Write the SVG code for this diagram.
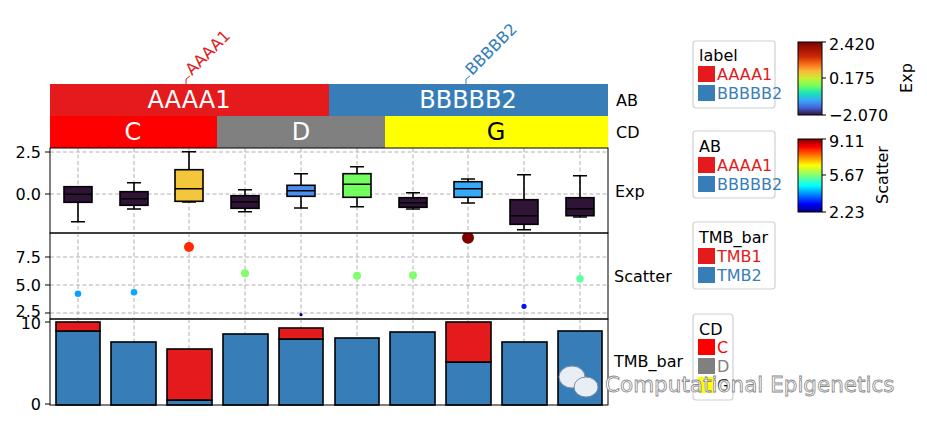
<svg xmlns="http://www.w3.org/2000/svg" width="927" height="427" viewBox="0 0 927 427">
<defs>
<style>
text{font-family:"DejaVu Sans",sans-serif;font-size:16px;fill:#000}
.tick{stroke:#000;stroke-width:1}
.grid{stroke:#b0b0b0;stroke-width:1;stroke-dasharray:4,2.5;fill:none}
.box{stroke:#000;stroke-width:1.6}
.wh{stroke:#000;stroke-width:1.6;fill:none}
.bar{stroke:#000;stroke-width:1.6}
.leg{fill:#fff;stroke:#d0d0d0;stroke-width:1.2}
</style>
<linearGradient id="turbo" x1="0" y1="1" x2="0" y2="0">
<stop offset="0" stop-color="#30123b"/><stop offset="0.1" stop-color="#4662d7"/><stop offset="0.2" stop-color="#36aaf9"/><stop offset="0.3" stop-color="#1ae4b6"/><stop offset="0.4" stop-color="#72fe5e"/><stop offset="0.5" stop-color="#c8ef34"/><stop offset="0.6" stop-color="#faba39"/><stop offset="0.7" stop-color="#f66b19"/><stop offset="0.8" stop-color="#cb2a04"/><stop offset="0.9" stop-color="#a31301"/><stop offset="1" stop-color="#7a0403"/>
</linearGradient>
<linearGradient id="jet" x1="0" y1="1" x2="0" y2="0">
<stop offset="0" stop-color="#00007f"/><stop offset="0.11" stop-color="#0000ff"/><stop offset="0.36" stop-color="#00ffff"/><stop offset="0.5" stop-color="#7dff7a"/><stop offset="0.64" stop-color="#ffff00"/><stop offset="0.89" stop-color="#ff0000"/><stop offset="1" stop-color="#7f0000"/>
</linearGradient>
</defs>
<rect width="927" height="427" fill="#fff"/>

<g id="top-labels">
<path d="M186,84 L186,79 L190,76" fill="none" stroke="#e41a1c" stroke-width="1"/>
<text x="192" y="76" transform="rotate(-45 192 76)" style="fill:#e41a1c">AAAA1</text>
<path d="M466,84 L466,79 L470,76" fill="none" stroke="#377eb8" stroke-width="1"/>
<text x="472" y="76" transform="rotate(-45 472 76)" style="fill:#377eb8">BBBBB2</text>
</g>

<g id="AB">
<rect x="50" y="84" width="279" height="32" fill="#e41a1c"/>
<rect x="329" y="84" width="279" height="32" fill="#377eb8"/>
<text x="189" y="108" text-anchor="middle" style="font-size:24px;fill:#fff">AAAA1</text>
<text x="468" y="108" text-anchor="middle" style="font-size:24px;fill:#fff">BBBBB2</text>
<text x="616" y="106">AB</text>
</g>
<g id="CD">
<rect x="50" y="116" width="167" height="32" fill="#ff0000"/>
<rect x="217" y="116" width="168" height="32" fill="#808080"/>
<rect x="385" y="116" width="223" height="32" fill="#ffff00"/>
<text x="133" y="140" text-anchor="middle" style="font-size:24px;fill:#fff">C</text>
<text x="301" y="140" text-anchor="middle" style="font-size:24px;fill:#fff">D</text>
<text x="496" y="140" text-anchor="middle" style="font-size:24px;fill:#000">G</text>
<text x="616" y="138">CD</text>
</g>

<g id="Exp">
<g class="grid">
<path d="M50,152H608M50,194H608"/>
<path d="M78,148V233M134,148V233M189,148V233M245,148V233M301,148V233M357,148V233M413,148V233M468,148V233M524,148V233M580,148V233"/>
</g>
<g class="wh">
<path d="M78,186.7V221.7M71,221.7H85M71,186.7H85"/>
<path d="M134,182.7V209M127,182.7H141M127,209H141"/>
<path d="M189,151.7V202M182,151.7H196M182,202H196"/>
<path d="M245,189.7V211.7M238,189.7H252M238,211.7H252"/>
<path d="M301,173.7V208M294,173.7H308M294,208H308"/>
<path d="M357,166.7V206.7M350,166.7H364M350,206.7H364"/>
<path d="M413,192.7V209M406,192.7H420M406,209H420"/>
<path d="M468,179V203M461,179H475M461,203H475"/>
<path d="M524,174.7V229.7M517,174.7H531M517,229.7H531"/>
<path d="M580,175.7V217M573,175.7H587M573,217H587"/>
</g>
<g class="box">
<rect x="64" y="186.7" width="28" height="15.6" fill="#301437"/>
<rect x="120" y="191.7" width="28" height="13.6" fill="#301437"/>
<rect x="175" y="169.7" width="28" height="31.6" fill="#f4c63c"/>
<rect x="231" y="195.7" width="28" height="12.6" fill="#301437"/>
<rect x="287" y="185.3" width="28" height="11" fill="#4a8ff0"/>
<rect x="343" y="173.7" width="28" height="23.6" fill="#72fe5e"/>
<rect x="399" y="197.7" width="28" height="9.6" fill="#301437"/>
<rect x="454" y="181.7" width="28" height="15.6" fill="#36aaf9"/>
<rect x="510" y="199.7" width="28" height="24.6" fill="#301437"/>
<rect x="566" y="197.7" width="28" height="18" fill="#301437"/>
<path d="M64,194.3H92M120,198.7H148M175,188.7H203M231,201.7H259M287,190.7H315M343,184.3H371M399,202.7H427M454,188.7H482M510,215.7H538M566,208.7H594" fill="none"/>
</g>
<rect x="50" y="148" width="558" height="85" fill="none" stroke="#000" stroke-width="1"/>
<path class="tick" d="M45,152H50M45,194H50"/>
<text x="41" y="158" text-anchor="end">2.5</text>
<text x="41" y="200" text-anchor="end">0.0</text>
<text x="615" y="197">Exp</text>
</g>

<g id="Scatter">
<g class="grid">
<path d="M50,257H608M50,285H608M50,313H608"/>
<path d="M78,233V319M134,233V319M189,233V319M245,233V319M301,233V319M357,233V319M413,233V319M468,233V319M524,233V319M580,233V319"/>
</g>
<circle cx="78" cy="293.7" r="3.3" fill="#0aa0ff"/>
<circle cx="134" cy="292.3" r="3.3" fill="#0aa8ff"/>
<circle cx="189" cy="247" r="5" fill="#ff2a00"/>
<circle cx="245" cy="273.3" r="4" fill="#80ff6a"/>
<circle cx="301" cy="314.7" r="1.6" fill="#00008f"/>
<circle cx="357" cy="275.7" r="4" fill="#80ff6a"/>
<circle cx="413" cy="275.3" r="4" fill="#80ff6a"/>
<clipPath id="sc"><rect x="50" y="233" width="558" height="86"/></clipPath>
<circle cx="468" cy="237.7" r="6" fill="#800000" clip-path="url(#sc)"/>
<circle cx="524" cy="306.3" r="2.6" fill="#0010ff"/>
<circle cx="580" cy="278.7" r="3.8" fill="#60ffa0"/>
<rect x="50" y="233" width="558" height="86" fill="none" stroke="#000" stroke-width="1"/>
<path class="tick" d="M45,257H50M45,285H50M45,313H50"/>
<text x="41" y="263" text-anchor="end">7.5</text>
<text x="41" y="291" text-anchor="end">5.0</text>
<text x="41" y="317" text-anchor="end">2.5</text>
<text x="614" y="282">Scatter</text>
</g>

<g id="TMB_bar">
<g class="grid">
<path d="M78,319V405M134,319V405M189,319V405M245,319V405M301,319V405M357,319V405M413,319V405M468,319V405M524,319V405M580,319V405"/>
</g>
<g class="bar">
<rect x="56" y="331" width="44" height="74" fill="#377eb8"/><rect x="56" y="322" width="44" height="9" fill="#e41a1c"/>
<rect x="111" y="342" width="45" height="63" fill="#377eb8"/>
<rect x="167" y="400" width="45" height="5" fill="#377eb8"/><rect x="167" y="349" width="45" height="51" fill="#e41a1c"/>
<rect x="223" y="334" width="45" height="71" fill="#377eb8"/>
<rect x="279" y="339" width="44" height="66" fill="#377eb8"/><rect x="279" y="328" width="44" height="11" fill="#e41a1c"/>
<rect x="335" y="338" width="44" height="67" fill="#377eb8"/>
<rect x="390" y="332" width="45" height="73" fill="#377eb8"/>
<rect x="446" y="362" width="45" height="43" fill="#377eb8"/><rect x="446" y="322" width="45" height="40" fill="#e41a1c"/>
<rect x="502" y="342" width="45" height="63" fill="#377eb8"/>
<rect x="558" y="331" width="44" height="74" fill="#377eb8"/>
</g>
<rect x="50" y="319" width="558" height="86" fill="none" stroke="#000" stroke-width="1"/>
<path class="tick" d="M45,322H50M45,404H50"/>
<text x="41" y="329" text-anchor="end">10</text>
<text x="41" y="410" text-anchor="end">0</text>
<text x="614" y="367">TMB_bar</text>
</g>

<g id="legend-label">
<rect class="leg" x="693" y="41" width="82" height="67" rx="3"/>
<text x="699" y="61">label</text>
<rect x="698" y="66" width="17" height="16" fill="#e41a1c"/><text x="717" y="80" style="fill:#e41a1c">AAAA1</text>
<rect x="698" y="85" width="17" height="16" fill="#377eb8"/><text x="717" y="99" style="fill:#377eb8">BBBBB2</text>
</g>
<g id="legend-AB">
<rect class="leg" x="693" y="131" width="82" height="67" rx="3"/>
<text x="699" y="152">AB</text>
<rect x="698" y="157" width="17" height="16" fill="#e41a1c"/><text x="717" y="171" style="fill:#e41a1c">AAAA1</text>
<rect x="698" y="176" width="17" height="16" fill="#377eb8"/><text x="717" y="190" style="fill:#377eb8">BBBBB2</text>
</g>
<g id="legend-TMB">
<rect class="leg" x="693" y="222" width="82" height="67" rx="3"/>
<text x="699" y="243">TMB_bar</text>
<rect x="698" y="248" width="17" height="16" fill="#e41a1c"/><text x="717" y="262" style="fill:#e41a1c">TMB1</text>
<rect x="698" y="267" width="17" height="16" fill="#377eb8"/><text x="717" y="281" style="fill:#377eb8">TMB2</text>
</g>
<g id="legend-CD">
<rect class="leg" x="693" y="314" width="40" height="86" rx="3"/>
<text x="699" y="335">CD</text>
<rect x="698" y="339" width="17" height="16" fill="#ff0000"/><text x="717" y="353" style="fill:#ff0000">C</text>
<rect x="698" y="358" width="17" height="16" fill="#808080"/><text x="717" y="372" style="fill:#808080">D</text>
<rect x="698" y="377" width="17" height="16" fill="#ffff00"/><text x="717" y="391" style="fill:#000">G</text>
</g>

<g id="cbar-Exp">
<rect x="798" y="42" width="24" height="73" fill="url(#turbo)" stroke="#000" stroke-width="1"/>
<path class="tick" d="M822,42H826M822,78H826M822,115H826"/>
<text x="829" y="50">2.420</text>
<text x="829" y="84">0.175</text>
<text x="829" y="121">−2.070</text>
<text x="912" y="78" transform="rotate(-90 912 78)" text-anchor="middle">Exp</text>
</g>
<g id="cbar-Scatter">
<rect x="798" y="139" width="24" height="73" fill="url(#jet)" stroke="#000" stroke-width="1"/>
<path class="tick" d="M822,139H826M822,175H826M822,212H826"/>
<text x="829" y="147">9.11</text>
<text x="829" y="181">5.67</text>
<text x="829" y="218">2.23</text>
<text x="888" y="175" transform="rotate(-90 888 175)" text-anchor="middle">Scatter</text>
</g>

<g id="watermark">
<ellipse cx="572" cy="377" rx="13" ry="11" fill="#e8eef4" stroke="#7890a8" stroke-width="1"/>
<ellipse cx="586" cy="387" rx="12" ry="10" fill="#e8eef4" stroke="#7890a8" stroke-width="1"/>
<text x="605" y="392" style="font-size:21.5px;fill:#fff;stroke:#888;stroke-width:0.8">Computational Epigenetics</text>
</g>
</svg>
